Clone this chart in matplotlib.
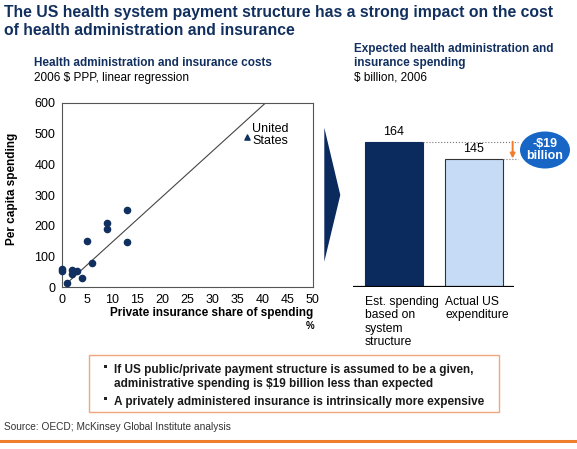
import numpy as np
import matplotlib.pyplot as plt
from matplotlib.patches import Ellipse, Polygon, Rectangle

# scatter: private insurance share of spending (%) vs per capita admin spending ($ PPP)
share = [0, 0, 1, 2, 2, 2.9, 4, 5, 6, 8.9, 8.9, 12.9, 12.9]
spend = [52, 58, 15, 56, 44, 53, 29, 151, 78, 210, 189, 251, 146]
us_share = 37
us_spend = 490
fit_x = [0.5, 40.6]
fit_y = [7, 600]

# bars: $ billion, 2006
bar_labels = ['Est. spending\nbased on\nsystem\nstructure', 'Actual US\nexpenditure']
bar_values = [164, 145]
gap_text = '-$19\nbillion'

title = ['The US health system payment structure has a strong impact on the cost',
         'of health administration and insurance']
bullets = ['If US public/private payment structure is assumed to be a given,',
           'administrative spending is $19 billion less than expected',
           'A privately administered insurance is intrinsically more expensive']

W, H = 577, 449
NAVY = '#12305f'
DARK = '#0b2a5e'
ORANGE = '#ee7d2e'

plt.rcParams['font.family'] = ['Liberation Sans', 'DejaVu Sans']


def box(l, t, r, b):
    return [l / W, 1 - b / H, (r - l) / W, (b - t) / H]


def put(x, y, s, **kw):
    kw.setdefault('va', 'baseline')
    return fig.text(x / W, 1 - y / H, s, **kw)


fig = plt.figure(figsize=(W / 100, H / 100), dpi=100)

# headings
put(4, 17, title[0], fontsize=11.3, fontweight='bold', color=NAVY)
put(4, 35, title[1], fontsize=11.3, fontweight='bold', color=NAVY)
put(34, 66, 'Health administration and insurance costs', fontsize=8.5,
    fontweight='bold', color=NAVY)
put(34, 81, '2006 $ PPP, linear regression', fontsize=8.5)
put(354, 52, 'Expected health administration and', fontsize=8.5,
    fontweight='bold', color=NAVY)
put(354, 66, 'insurance spending', fontsize=8.5, fontweight='bold', color=NAVY)
put(354, 81, '$ billion, 2006', fontsize=8.5)

# scatter panel
ax1 = fig.add_axes(box(62.3, 103, 312.5, 287.3))
ax1.plot(fit_x, fit_y, color='#444444', lw=0.8)
ax1.scatter(share, spend, s=20, color=NAVY, zorder=3, clip_on=False)
ax1.scatter([us_share], [us_spend], marker='^', s=14, color=NAVY, zorder=3)
ax1.text(us_share + 1, us_spend + 6, 'United\nStates', fontsize=9,
         va='center', ha='left', linespacing=1.05)
ax1.set_xlim(0, 50)
ax1.set_ylim(0, 600)
ax1.set_xticks(np.arange(0, 51, 5))
ax1.set_yticks(np.arange(0, 601, 100))
ax1.tick_params(length=0, labelsize=9, pad=5)
for sp in ax1.spines.values():
    sp.set_color('#555555')
    sp.set_linewidth(0.8)
put(12, 189, 'Per capita spending', fontsize=8.5, fontweight='bold',
    rotation=90, ha='center', va='center')
put(313, 316, 'Private insurance share of spending', fontsize=8.5,
    fontweight='bold', ha='right')
put(310, 329, '%', fontsize=7, fontweight='bold', ha='center')

# chevron
fig.add_artist(Polygon([(324.3 / W, 1 - 127.7 / H), (340.3 / W, 1 - 195 / H),
                        (324.3 / W, 1 - 261.7 / H)], closed=True,
                       transform=fig.transFigure, color=DARK, lw=0))

# bar panel
ax2 = fig.add_axes(box(353, 103, 514, 286.7))
ax2.set_xlim(-0.511, 1.5)
ax2.set_ylim(0, 207.8)
ax2.axis('off')
ax2.bar([0, 1], bar_values, width=0.718, color=[DARK, '#c6dcf6'],
        edgecolor=[DARK, '#333333'], linewidth=0.8)
ax2.axhline(0, color='black', lw=1.6)
for i, v in enumerate(bar_values):
    ax2.text(i, v + 4, str(v), ha='center', va='bottom', fontsize=9)
ax2.plot([0.359, 1.55], [bar_values[0]] * 2, ls=':', color='#777777', lw=0.8,
         clip_on=False)
ax2.plot([1.359, 1.55], [bar_values[1]] * 2, ls=':', color='#777777', lw=0.8,
         clip_on=False)
ax2.annotate('', xy=(1.483, bar_values[1]), xytext=(1.483, bar_values[0]),
             arrowprops=dict(arrowstyle='-|>', color=ORANGE, lw=1.4,
                             shrinkA=0, shrinkB=0, mutation_scale=7),
             annotation_clip=False)
for i, lab in enumerate(bar_labels):
    put(365 + 80.3 * i, 296, lab, fontsize=8.7, va='top', ha='left',
        linespacing=1.15)

fig.add_artist(Ellipse((545 / W, 1 - 150 / H), 50 / W, 37 / H,
                       transform=fig.transFigure, color='#1766c6', lw=0))
put(545, 150, gap_text, fontsize=9, fontweight='bold', color='white',
    ha='center', va='center', linespacing=0.95)

# takeaway box
fig.add_artist(Rectangle((89 / W, 1 - 411.7 / H), 410 / W, 57 / H,
                         transform=fig.transFigure, fill=False,
                         edgecolor='#f2a67c', lw=1.0))
for y, s, dot in [(373, bullets[0], True), (387, bullets[1], False),
                  (405, bullets[2], True)]:
    if dot:
        fig.add_artist(Rectangle((104.3 / W, 1 - (y - 5.5) / H), 2.6 / W,
                                 2.6 / H, transform=fig.transFigure,
                                 color='#222222', lw=0))
    put(114, y, s, fontsize=8.5, fontweight='bold', color='#1a1a1a')

put(4, 430, 'Source: OECD; McKinsey Global Institute analysis', fontsize=7.3,
    color='#333333')
fig.add_artist(plt.Line2D([0, 1], [1 - 440.5 / H] * 2, color=ORANGE, lw=2.2,
                          transform=fig.transFigure))

fig.savefig('out.png', dpi=100)
